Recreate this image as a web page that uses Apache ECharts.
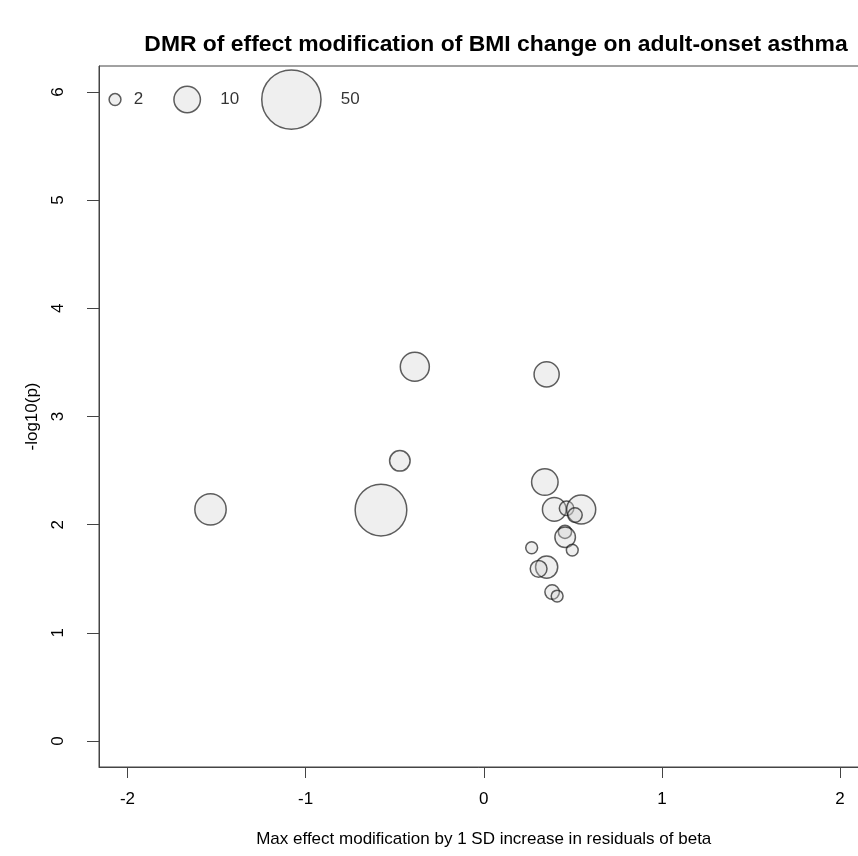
<!DOCTYPE html>
<html>
<head>
<meta charset="utf-8">
<script src="https://cdn.jsdelivr.net/npm/echarts@6/dist/echarts.min.js"></script>
<style>
  html, body { margin: 0; padding: 0; background: #fff; }
  #main { width: 858px; height: 856px; }
</style>
</head>
<body>
<div id="main"></div>
<script>
// effect modification (x), -log10(p) (y), number of CpGs in DMR (bubble size)
var effectMod = [-0.387, 0.353, -0.471, -0.577, 0.343, 0.396, 0.465, 0.547, 0.512, 0.456, 0.457, 0.269, 0.497, 0.353, 0.308, 0.384, 0.412, -1.534];
var negLogP   = [3.46, 3.39, 2.59, 2.135, 2.394, 2.141, 2.151, 2.141, 2.089, 1.934, 1.883, 1.787, 1.765, 1.608, 1.592, 1.377, 1.340, 2.141];
var nCpG      = [12, 9, 6, 38, 10, 8, 3, 12, 3, 2.5, 6, 2, 2, 7, 4, 3, 2, 14];

var xTicks = [-2, -1, 0, 1, 2];
var yTicks = [0, 1, 2, 3, 4, 5, 6];

// size key drawn inside the plot
var keyN = [2, 10, 50];
var keyX = [-2.07, -1.665, -1.08];
var keyY = 5.93;

var font = 'Liberation Sans, Arial, sans-serif';
var radius = function (n) { return 4.19 * Math.sqrt(n); };

var points = effectMod.map(function (x, i) { return [x, negLogP[i], nCpG[i]]; });
var keyGap = [12, 19, 19];
var keyPoints = keyN.map(function (n, i) {
  return {
    value: [keyX[i], keyY, n],
    label: { distance: keyGap[i] }
  };
});

var bubbleStyle = { color: 'rgba(205,205,205,0.4)', borderColor: 'rgba(20,20,20,0.85)', borderWidth: 1.5 };

var chart = echarts.init(document.getElementById('main'));
chart.setOption({
  animation: false,
  title: {
    text: 'DMR of effect modification of BMI change on adult-onset asthma',
    left: 491,
    top: 28,
    textAlign: 'center',
    textStyle: { fontFamily: font, fontSize: 22.9, fontWeight: 'bold', color: '#000' }
  },
  grid: {
    left: 99, top: 66, width: 769.5, height: 701,
    outerBoundsMode: 'none',
    containLabel: false,
    show: true, borderColor: '#444', borderWidth: 1
  },
  xAxis: {
    type: 'value',
    min: -2.16, max: 2.16,
    name: 'Max effect modification by 1 SD increase in residuals of beta',
    nameLocation: 'middle',
    nameGap: 64,
    nameTextStyle: { fontFamily: font, fontSize: 17, color: '#000' },
    axisLine: { show: true, onZero: false, lineStyle: { color: '#444' } },
    axisTick: { show: true, customValues: xTicks, length: 11, lineStyle: { color: '#444' } },
    axisLabel: { customValues: xTicks, margin: 24, fontFamily: font, fontSize: 17, color: '#000' },
    splitLine: { show: false }
  },
  yAxis: {
    type: 'value',
    min: -0.24, max: 6.24,
    name: '-log10(p)',
    nameLocation: 'middle',
    nameGap: 58,
    nameTextStyle: { fontFamily: font, fontSize: 17, color: '#000' },
    axisLine: { show: true, onZero: false, lineStyle: { color: '#444' } },
    axisTick: { show: true, customValues: yTicks, length: 12, lineStyle: { color: '#444' } },
    axisLabel: { customValues: yTicks, rotate: 90, margin: 32, fontFamily: font, fontSize: 17, color: '#000' },
    splitLine: { show: false }
  },
  series: [
    {
      type: 'scatter',
      data: points,
      symbol: 'circle',
      symbolSize: function (v) { return 2 * radius(v[2]); },
      itemStyle: bubbleStyle
    },
    {
      type: 'scatter',
      data: keyPoints,
      symbol: 'circle',
      symbolSize: function (v) { return 2 * radius(v[2]); },
      itemStyle: bubbleStyle,
      label: {
        show: true, position: 'right',
        formatter: function (p) { return String(p.value[2]); },
        fontFamily: font, fontSize: 17, color: '#000'
      }
    }
  ]
});
</script>
</body>
</html>
